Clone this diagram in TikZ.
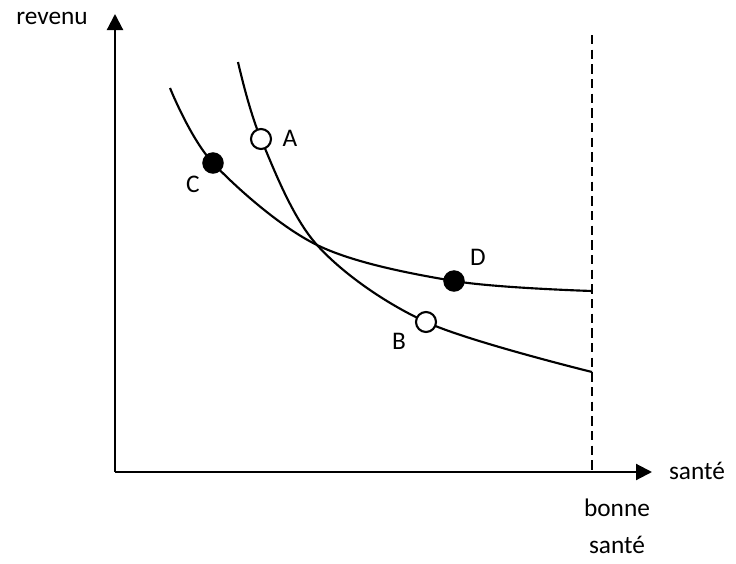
\documentclass[tikz,border=0pt]{standalone}
\usepackage{fontspec}
\setmainfont{Carlito}
\usetikzlibrary{arrows.meta}
\begin{document}
\begin{tikzpicture}[x=0.75pt,y=-0.75pt,
  axis/.style={line width=1.6pt,-{Triangle[length=12pt,width=12pt]}},
  curve/.style={line width=1.6pt},
  opendot/.style={circle,draw,line width=1.6pt,fill=white,minimum size=15pt,inner sep=0pt},
  fulldot/.style={circle,draw,line width=1.6pt,fill=black,minimum size=14.5pt,inner sep=0pt},
  lbl/.style={font=\fontsize{19pt}{22pt}\selectfont,inner sep=0pt}]
\useasboundingbox (0,0) rectangle (736,564);
\coordinate (O) at (115,472);
\coordinate (Ytop) at (115,14);
\coordinate (Xend) at (652,472);
\coordinate (Dtop) at (592,35);
\coordinate (Dbot) at (592,472);
\draw[line width=1.6pt,dash pattern=on 7pt off 4pt] (Dtop) -- (Dbot);
\draw[axis] (O) -- (Ytop);
\draw[axis] (O) -- (Xend);
\draw[curve] plot[smooth,tension=0.55] coordinates {(238,62) (261,139) (317,245) (426,322) (592,372)};
\draw[curve] plot[smooth,tension=0.55] coordinates {(170,88) (213,163) (317,245) (454,281) (592,291)};
\node[opendot] (A) at (261,139) {};
\node[opendot] (B) at (426,322) {};
\node[fulldot] (C) at (213,163) {};
\node[fulldot] (D) at (454,281) {};
\node[lbl] (lA) at (290,138) {A};
\node[lbl] (lB) at (399,341) {B};
\node[lbl] (lC) at (193,184) {C};
\node[lbl] (lD) at (478,257) {D};
\node[lbl] (rev) at (52,18) {revenu};
\node[lbl] (san) at (697,471) {santé};
\node[lbl] (bon) at (617,508) {bonne};
\node[lbl] (san2) at (617,545) {santé};
\end{tikzpicture}
\end{document}
